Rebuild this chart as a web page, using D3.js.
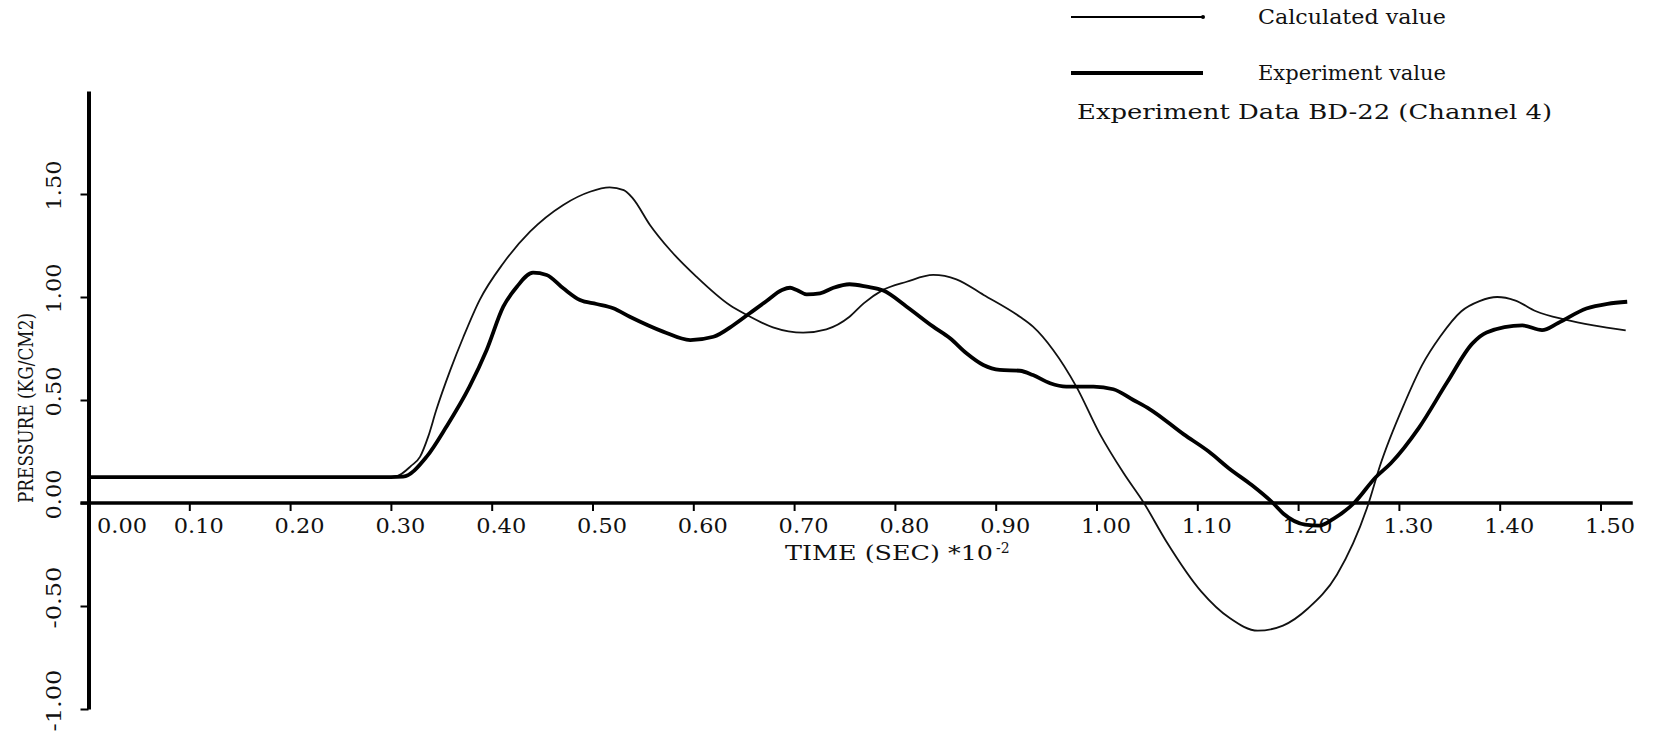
<!DOCTYPE html>
<html>
<head>
<meta charset="utf-8">
<script src="https://cdn.jsdelivr.net/npm/d3@7"></script>
<style>
  body { margin: 0; background: #fff; }
  svg { display: block; }
  text { font-family: "DejaVu Serif", serif; fill: #111; }
</style>
</head>
<body>
<div id="chart"></div>
<script>
const width = 1655;
const height = 738;

// Calculated value (thin curve): time (sec *10^-2), pressure (kg/cm2)
const calcTime = [0.00, 0.10, 0.20, 0.30, 0.306, 0.320, 0.329, 0.337, 0.345, 0.359, 0.372, 0.388, 0.4115, 0.438, 0.471, 0.4975, 0.517, 0.531, 0.540, 0.557, 0.577, 0.603, 0.636, 0.653, 0.679, 0.709, 0.732, 0.755, 0.769, 0.787, 0.8117, 0.838, 0.861, 0.888, 0.924, 0.937, 0.957, 0.980, 1.003, 1.027, 1.047, 1.069, 1.104, 1.1325, 1.160, 1.185, 1.210, 1.2385, 1.270, 1.281, 1.306, 1.323, 1.341, 1.362, 1.380, 1.3975, 1.415, 1.436, 1.465, 1.493, 1.525];
const calcPressure = [0.126, 0.126, 0.126, 0.126, 0.130, 0.180, 0.225, 0.322, 0.451, 0.646, 0.807, 0.985, 1.164, 1.317, 1.447, 1.511, 1.532, 1.519, 1.479, 1.350, 1.228, 1.099, 0.961, 0.913, 0.853, 0.827, 0.843, 0.904, 0.969, 1.031, 1.074, 1.107, 1.086, 1.010, 0.904, 0.856, 0.743, 0.565, 0.338, 0.144, 0.000, -0.184, -0.430, -0.560, -0.620, -0.595, -0.511, -0.348, 0.000, 0.177, 0.489, 0.669, 0.808, 0.931, 0.980, 1.000, 0.984, 0.931, 0.890, 0.862, 0.838];

// Experiment value (thick curve)
const expTime = [0.00, 0.10, 0.20, 0.30, 0.312, 0.3355, 0.355, 0.378, 0.395, 0.4115, 0.425, 0.441, 0.4545, 0.471, 0.4876, 0.504, 0.5206, 0.537, 0.570, 0.597, 0.620, 0.640, 0.656, 0.673, 0.688, 0.696, 0.7026, 0.7125, 0.7257, 0.739, 0.755, 0.772, 0.7885, 0.8117, 0.838, 0.8547, 0.871, 0.8877, 0.904, 0.924, 0.937, 0.954, 0.970, 0.997, 1.0167, 1.0365, 1.053, 1.0866, 1.111, 1.1325, 1.154, 1.175, 1.1855, 1.207, 1.221, 1.235, 1.2555, 1.277, 1.292, 1.320, 1.348, 1.373, 1.387, 1.4225, 1.442, 1.458, 1.486, 1.507, 1.5265];
const expPressure = [0.126, 0.126, 0.126, 0.126, 0.128, 0.225, 0.370, 0.565, 0.743, 0.953, 1.050, 1.118, 1.107, 1.042, 0.985, 0.966, 0.945, 0.904, 0.832, 0.791, 0.807, 0.864, 0.921, 0.982, 1.034, 1.045, 1.034, 1.013, 1.018, 1.045, 1.062, 1.050, 1.031, 0.953, 0.856, 0.800, 0.727, 0.670, 0.646, 0.642, 0.621, 0.581, 0.565, 0.565, 0.552, 0.500, 0.455, 0.333, 0.251, 0.164, 0.087, 0.000, -0.052, -0.105, -0.110, -0.077, 0.000, 0.125, 0.193, 0.366, 0.587, 0.775, 0.828, 0.862, 0.839, 0.874, 0.944, 0.967, 0.977];

const xTicks = [0, 0.1, 0.2, 0.3, 0.4, 0.5, 0.6, 0.7, 0.8, 0.9, 1.0, 1.1, 1.2, 1.3, 1.4, 1.5];
const yTicks = [-1, -0.5, 0, 0.5, 1, 1.5];

const legendLabels = ["Calculated value", "Experiment value"];
const noteText = "Experiment Data BD-22 (Channel 4)";

// scales
const x = d3.scaleLinear().domain([0, 1.5]).range([88.5, 1600.5]);
const y = d3.scaleLinear().domain([-1, 2]).range([709, 91]);

const svg = d3.select('#chart')
  .append('svg')
  .attr('width', width)
  .attr('height', height);

svg.append('rect').attr('width', width).attr('height', height).attr('fill', '#fff');

// x axis (through zero)
const xAxis = svg.append('g')
  .attr('transform', `translate(0, ${y(0)})`)
  .call(d3.axisBottom(x).tickValues(xTicks).tickFormat(d => d.toFixed(2)).tickSize(8).tickSizeOuter(0))
  .attr('font-family', null)
  .attr('font-size', 21);

xAxis.select('.domain').remove();
xAxis.append('line')
  .attr('x1', x(-0.008))
  .attr('x2', x(1.532))
  .attr('stroke', '#000')
  .attr('stroke-width', 3.5);
xAxis.selectAll('.tick line')
  .attr('stroke', '#000')
  .attr('stroke-width', 2)
  .attr('y2', d => d === 0 ? 0 : 8);
xAxis.selectAll('.tick text')
  .attr('y', 0)
  .attr('dy', 0)
  .attr('transform', d => d === 0 ? 'translate(33, 30)' : 'translate(9, 30)')
  .attr('textLength', 50)
  .attr('lengthAdjust', 'spacingAndGlyphs');

// y axis
const yAxis = svg.append('g')
  .attr('transform', `translate(${x(0)}, 0)`)
  .call(d3.axisLeft(y).tickValues(yTicks).tickFormat(d => d.toFixed(2)).tickSize(8).tickSizeOuter(0))
  .attr('font-family', null)
  .attr('font-size', 21);

yAxis.select('.domain').attr('stroke', '#000').attr('stroke-width', 4);
yAxis.selectAll('.tick line').attr('stroke', '#000').attr('stroke-width', 2);
yAxis.selectAll('.tick text')
  .attr('x', 0)
  .attr('dy', 0)
  .attr('text-anchor', 'middle')
  .attr('transform', 'translate(-28, -9) rotate(-90)')
  .attr('textLength', d => d < 0 ? 62 : 50)
  .attr('lengthAdjust', 'spacingAndGlyphs');

// axis titles
svg.append('text')
  .attr('transform', 'translate(33, 408) rotate(-90)')
  .attr('text-anchor', 'middle')
  .attr('font-size', 20)
  .attr('textLength', 190)
  .attr('lengthAdjust', 'spacingAndGlyphs')
  .text('PRESSURE (KG/CM2)');

svg.append('text')
  .attr('x', 785)
  .attr('y', 560)
  .attr('font-size', 20)
  .attr('textLength', 208)
  .attr('lengthAdjust', 'spacingAndGlyphs')
  .text('TIME (SEC) *10');
svg.append('text')
  .attr('x', 996)
  .attr('y', 553)
  .attr('font-size', 14)
  .text('-2');

// curves
const line = d3.line()
  .x(d => x(d[0]))
  .y(d => y(d[1]))
  .curve(d3.curveMonotoneX);

svg.append('path')
  .datum(d3.zip(calcTime, calcPressure))
  .attr('d', line)
  .attr('fill', 'none')
  .attr('stroke', '#111')
  .attr('stroke-width', 1.8);

svg.append('path')
  .datum(d3.zip(expTime, expPressure))
  .attr('d', line)
  .attr('fill', 'none')
  .attr('stroke', '#000')
  .attr('stroke-width', 3.8)
  .attr('stroke-linejoin', 'round');

// legend
const legend = svg.append('g');
const legendY = [17, 73];
legendLabels.forEach((label, i) => {
  legend.append('line')
    .attr('x1', 1071).attr('x2', 1203)
    .attr('y1', legendY[i]).attr('y2', legendY[i])
    .attr('stroke', '#000')
    .attr('stroke-width', i === 0 ? 1.8 : 4);
  legend.append('text')
    .attr('x', 1258)
    .attr('y', legendY[i] + 7)
    .attr('font-size', 20)
    .attr('textLength', 188)
    .attr('lengthAdjust', 'spacingAndGlyphs')
    .text(label);
});
// small end mark on the thin legend line
legend.append('circle')
  .attr('cx', 1203).attr('cy', legendY[0])
  .attr('r', 2)
  .attr('fill', '#000');

legend.append('text')
  .attr('x', 1077)
  .attr('y', 119)
  .attr('font-size', 20)
  .attr('textLength', 475)
  .attr('lengthAdjust', 'spacingAndGlyphs')
  .text(noteText);
</script>
</body>
</html>
